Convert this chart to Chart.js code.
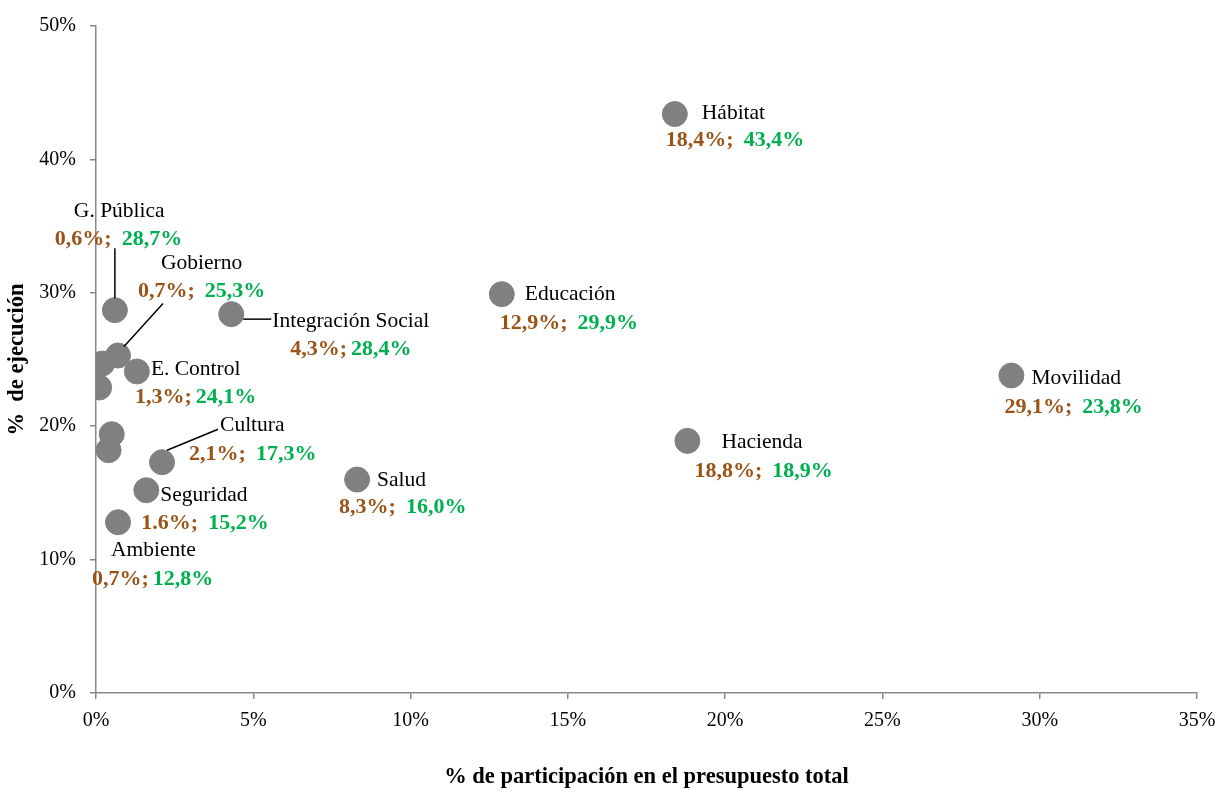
<!DOCTYPE html>
<html>
<head>
<meta charset="utf-8">
<script src="https://cdn.jsdelivr.net/npm/chart.js@4/dist/chart.umd.min.js"></script>
<style>
  html, body { margin: 0; padding: 0; background: #fff; }
  #wrap { width: 1216px; height: 792px; }
</style>
</head>
<body>
<div id="wrap"><canvas id="scatter" width="1216" height="792"></canvas></div>
<script>
// % de participación en el presupuesto total (x) y % de ejecución (y)
const sectores = ['Hábitat', 'Educación', 'Movilidad', 'Hacienda', 'Salud', 'Integración Social',
  'G. Pública', 'Gobierno', 'E. Control', 'Cultura', 'Seguridad', 'Ambiente', '', '', '', ''];
const participacion = [18.4, 12.9, 29.1, 18.8, 8.3, 4.3, 0.6, 0.7, 1.3, 2.1, 1.6, 0.7, 0.2, 0.1, 0.5, 0.4];
const ejecucion = [43.4, 29.9, 23.8, 18.9, 16.0, 28.4, 28.7, 25.3, 24.1, 17.3, 15.2, 12.8, 24.7, 22.9, 19.4, 18.2];
const textoX = ['18,4%;', '12,9%;', '29,1%;', '18,8%;', '8,3%;', '4,3%;', '0,6%;', '0,7%;', '1,3%;', '2,1%;', '1.6%;', '0,7%;'];
const textoY = ['43,4%', '29,9%', '23,8%', '18,9%', '16,0%', '28,4%', '28,7%', '25,3%', '24,1%', '17,3%', '15,2%', '12,8%'];
const ticksX = [0, 5, 10, 15, 20, 25, 30, 35];
const ticksY = [0, 10, 20, 30, 40, 50];

// label placement relative to each point: [nameDx, nameDy, valDx, valDy, gap], optional leader line
const colocacion = [
  [27, -1, -9, 26, 10],
  [23, 0, -2, 29, 10],
  [20, 3, -7, 32, 10],
  [34, 1, 7, 30, 10],
  [20, 1, -18, 28, 10],
  [41, 7, 59, 35, 4],
  [-41, -99, -60, -71, 10],
  [43, -92, 20, -64, 10],
  [14, -2, -2, 26, 4],
  [58, -37, 27, -8, 10],
  [14, 5, -5, 33, 10],
  [-7, 28, -26, 57, 4]
];
const guias = {
  5: [12, 5, 40, 5],
  6: [0, -12, 0, -62],
  7: [6, -9, 45, -52],
  9: [5, -12, 56, -33]
};

const marron = '#9A5418';
const verde = '#00B050';
const serif = '"Liberation Serif", "Times New Roman", serif';

const etiquetas = {
  id: 'etiquetas',
  afterDatasetsDraw(chart) {
    const ctx = chart.ctx;
    const pts = chart.getDatasetMeta(0).data;
    ctx.save();
    ctx.textBaseline = 'middle';
    ctx.textAlign = 'left';
    Object.keys(guias).forEach(k => {
      const p = pts[k], g = guias[k];
      ctx.strokeStyle = '#000';
      ctx.lineWidth = 1.5;
      ctx.beginPath();
      ctx.moveTo(p.x + g[0], p.y + g[1]);
      ctx.lineTo(p.x + g[2], p.y + g[3]);
      ctx.stroke();
    });
    colocacion.forEach((c, i) => {
      const p = pts[i];
      ctx.font = '21.5px ' + serif;
      ctx.fillStyle = '#000';
      ctx.fillText(sectores[i], p.x + c[0], p.y + c[1]);
      ctx.font = 'bold 22px ' + serif;
      ctx.fillStyle = marron;
      ctx.fillText(textoX[i], p.x + c[2], p.y + c[3]);
      const w = ctx.measureText(textoX[i]).width;
      ctx.fillStyle = verde;
      ctx.fillText(textoY[i], p.x + c[2] + w + c[4], p.y + c[3]);
    });
    ctx.restore();
  }
};

const puntos = participacion.map((v, i) => ({ x: v, y: ejecucion[i] }));

new Chart('scatter', {
  type: 'scatter',
  data: {
    datasets: [{
      data: puntos,
      backgroundColor: '#808080',
      borderColor: '#808080',
      pointRadius: 12.5,
      pointHoverRadius: 12.5
    }]
  },
  options: {
    responsive: false,
    animation: false,
    layout: { padding: { top: 24, right: 19, left: 0, bottom: 0 } },
    plugins: { legend: { display: false }, tooltip: { enabled: false } },
    scales: {
      x: {
        type: 'linear',
        min: 0,
        max: 35,
        afterBuildTicks: s => { s.ticks = ticksX.map(v => ({ value: v })); },
        afterFit: s => { s.height = 99; s.paddingRight = 0; s.paddingLeft = 0; },
        ticks: {
          color: '#000',
          font: { family: serif, size: 20 },
          padding: 10,
          callback: v => v + '%'
        },
        grid: { drawOnChartArea: false, tickLength: 6, color: '#888', lineWidth: 1.5 },
        border: { color: '#888', width: 1.5 },
        title: {
          display: true,
          text: '% de participación en el presupuesto total',
          color: '#000',
          font: { family: serif, size: 22.5, weight: 'bold' },
          padding: { top: 0, bottom: 1 }
        }
      },
      y: {
        type: 'linear',
        min: 0,
        max: 50,
        afterBuildTicks: s => { s.ticks = ticksY.map(v => ({ value: v })); },
        afterFit: s => { s.width = 96; },
        ticks: {
          color: '#000',
          font: { family: serif, size: 20 },
          padding: 14,
          callback: v => v + '%'
        },
        grid: { drawOnChartArea: false, tickLength: 6, color: '#888', lineWidth: 1.5 },
        border: { color: '#888', width: 1.5 },
        title: {
          display: true,
          text: '%  de ejecución',
          color: '#000',
          font: { family: serif, size: 22.5, weight: 'bold' },
          padding: { top: 4, bottom: 0 }
        }
      }
    }
  },
  plugins: [etiquetas]
});
</script>
</body>
</html>
